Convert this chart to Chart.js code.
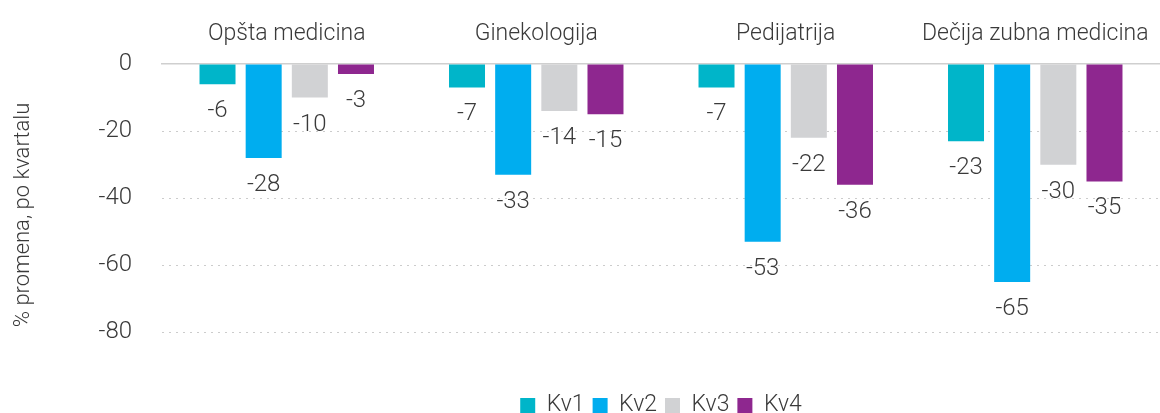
<!DOCTYPE html>
<html>
<head>
<meta charset="utf-8">
<script src="https://cdn.jsdelivr.net/npm/chart.js@4"></script>
<style>
  html, body { margin: 0; padding: 0; background: #fff; }
  #wrap { width: 1160px; height: 413px; position: relative; }
</style>
</head>
<body>
<div id="wrap"><canvas id="chart"></canvas></div>
<script>
const categories = ["Opšta medicina", "Ginekologija", "Pedijatrija", "Dečija zubna medicina"];
const seriesNames = ["Kv1", "Kv2", "Kv3", "Kv4"];
const kv1 = [-6, -7, -7, -23];
const kv2 = [-28, -33, -53, -65];
const kv3 = [-10, -14, -22, -30];
const kv4 = [-3, -15, -36, -35];
const yTicks = [0, -20, -40, -60, -80];

const COLORS = ["#00B5C9", "#00ADEF", "#D1D2D4", "#8E278F"];
const FONT = "'Roboto', sans-serif";
const TEXT = "#3a3a3a";

Chart.defaults.font.family = FONT;
Chart.defaults.font.weight = 300;
Chart.defaults.color = TEXT;

// value labels under each bar end
const barLabels = {
  id: "barLabels",
  afterDatasetsDraw(chart) {
    const ctx = chart.ctx;
    ctx.save();
    ctx.font = "300 24px " + FONT;
    ctx.fillStyle = TEXT;
    ctx.textAlign = "center";
    ctx.textBaseline = "middle";
    chart.data.datasets.forEach((ds, i) => {
      chart.getDatasetMeta(i).data.forEach((bar, j) => {
        ctx.fillText(ds.data[j], bar.x, bar.y + 27);
      });
    });
    ctx.restore();
  }
};

const seriesData = [kv1, kv2, kv3, kv4];

new Chart(document.getElementById("chart"), {
  type: "bar",
  data: {
    labels: categories,
    datasets: seriesNames.map((name, i) => ({
      label: name,
      data: seriesData[i],
      backgroundColor: COLORS[i],
      borderWidth: 0,
      categoryPercentage: 0.74,
      barPercentage: 0.78
    }))
  },
  options: {
    responsive: true,
    maintainAspectRatio: false,
    animation: false,
    layout: { padding: { left: 0, right: 0, top: 0, bottom: -14 } },
    plugins: {
      legend: {
        position: "bottom",
        fullSize: false,
        title: { display: true, text: " ", font: { size: 10 }, padding: 4 },
        labels: {
          boxWidth: 15,
          boxHeight: 15,
          padding: 8,
          font: { size: 23, weight: 300 },
          color: TEXT
        }
      },
      tooltip: { enabled: false }
    },
    scales: {
      x: {
        position: "top",
        grid: { display: false },
        border: { display: true, color: "#cfcfcf", width: 1.5 },
        ticks: { font: { size: 23, weight: 300 }, color: TEXT, padding: 8 },
        afterFit: s => { s.height = 64; }
      },
      y: {
        min: -90,
        max: 0,
        afterBuildTicks: s => { s.ticks = yTicks.map(v => ({ value: v })); },
        afterFit: s => { s.width = 162; },
        grid: {
          drawTicks: false,
          color: c => c.tick && c.tick.value === 0 ? "rgba(0,0,0,0)" : "#cccccc",
          lineWidth: 1
        },
        border: { display: false, dash: [2, 5] },
        ticks: { font: { size: 24, weight: 300 }, color: TEXT, padding: 30 },
        title: {
          display: true,
          text: "% promena, po kvartalu",
          font: { size: 22, weight: 300 },
          color: TEXT,
          padding: { top: 10, bottom: 0 }
        }
      }
    }
  },
  plugins: [barLabels]
});
</script>
</body>
</html>
